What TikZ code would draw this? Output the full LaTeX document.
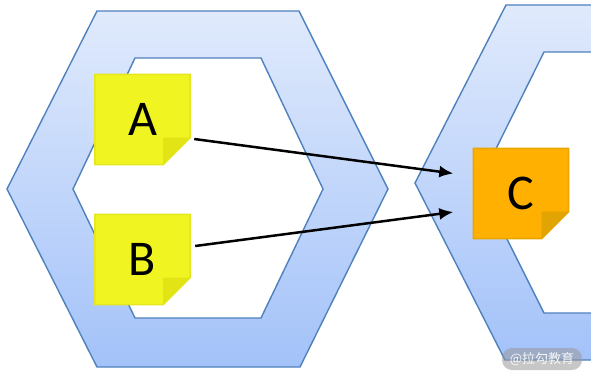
\documentclass[tikz,border=0pt]{standalone}
\usepackage{fontspec}
\setmainfont{Carlito}
\newfontfamily\cjkfont{Noto Sans CJK SC}
\usetikzlibrary{arrows.meta}
\pgfdeclarelayer{back}
\pgfdeclarelayer{mid}
\pgfsetlayers{back,mid,main}

\definecolor{hexline}{HTML}{4F81BD}
\definecolor{hextop}{HTML}{E0EAFC}
\definecolor{hexbot}{HTML}{A3C2F9}
\definecolor{noteY}{HTML}{F0F420}
\definecolor{noteYb}{HTML}{E4E61E}
\definecolor{noteYf}{HTML}{E2E416}
\definecolor{noteO}{HTML}{FFB000}
\definecolor{noteOb}{HTML}{EAA600}
\definecolor{noteOf}{HTML}{E2A400}

\tikzset{
  note/.style={minimum width=95pt, minimum height=90pt, inner sep=0pt,
    font=\fontsize{50}{50}\selectfont, text=black},
  hexring/.style={top color=hextop, bottom color=hexbot},
  hexborder/.style={draw=hexline, line width=1.4pt, line join=miter},
  conn/.style={-{Latex[length=14pt,width=12pt]}, line width=2.5pt, black},
}

\newcommand\notebg[4]{%
\begin{pgfonlayer}{mid}
\filldraw[fill=#2, draw=#3, line width=1.5pt]
  (#1.north west) -- (#1.north east) -- ([yshift=27pt]#1.south east)
  -- ([xshift=-27pt]#1.south east) -- (#1.south west) -- cycle;
\fill[#4] ([yshift=27pt]#1.south east) -- ([xshift=-27pt]#1.south east)
  -- ([xshift=-27pt,yshift=27pt]#1.south east) -- cycle;
\end{pgfonlayer}}

\begin{document}
\begin{tikzpicture}[x=1pt, y=-1pt]
\useasboundingbox (0,0) rectangle (591,378);

\begin{pgfonlayer}{back}
\begin{scope}
\clip (0,0) rectangle (591,378);
\fill[white] (0,0) rectangle (591,378);
% left hexagon
\shade[hexring] (97,11) -- (299,11) -- (388,189) -- (300,367) -- (97,367) -- (7,189) -- cycle;
\filldraw[fill=white, hexborder] (135,58) -- (261,58) -- (323,189) -- (261,318) -- (135,318) -- (73,189) -- cycle;
\draw[hexborder] (97,11) -- (299,11) -- (388,189) -- (300,367) -- (97,367) -- (7,189) -- cycle;
% right hexagon (cut off by the edge)
\shade[hexring] (506,5) -- (610,5) -- (610,360) -- (505,360) -- (415,183) -- cycle;
\filldraw[fill=white, hexborder] (544,52) -- (610,52) -- (610,313) -- (544,313) -- (479,183) -- cycle;
\draw[hexborder] (610,5) -- (506,5) -- (415,183) -- (505,360) -- (610,360);
\end{scope}
\end{pgfonlayer}

\node[note] (A) at (142.5,119.5) {A};
\node[note] (B) at (142.5,259.5) {B};
\node[note] (C) at (521,193.5) {C};
\notebg{A}{noteY}{noteYb}{noteYf}
\notebg{B}{noteY}{noteYb}{noteYf}
\notebg{C}{noteO}{noteOb}{noteOf}

\draw[conn] ([shift={(4pt,-19.5pt)}]A.east) -- ([shift={(-20pt,20pt)}]C.west);
\draw[conn] ([shift={(5pt,13.5pt)}]B.east) -- ([shift={(-20pt,-18.5pt)}]C.west);

\node[fill=black!40, fill opacity=0.55, text opacity=0.9, text=white,
  rounded corners=10pt, minimum width=80pt, minimum height=22pt, inner sep=0pt,
  font=\cjkfont\fontsize{13}{13}\selectfont] (wm) at (542,359) {@拉勾教育};
\end{tikzpicture}
\end{document}
